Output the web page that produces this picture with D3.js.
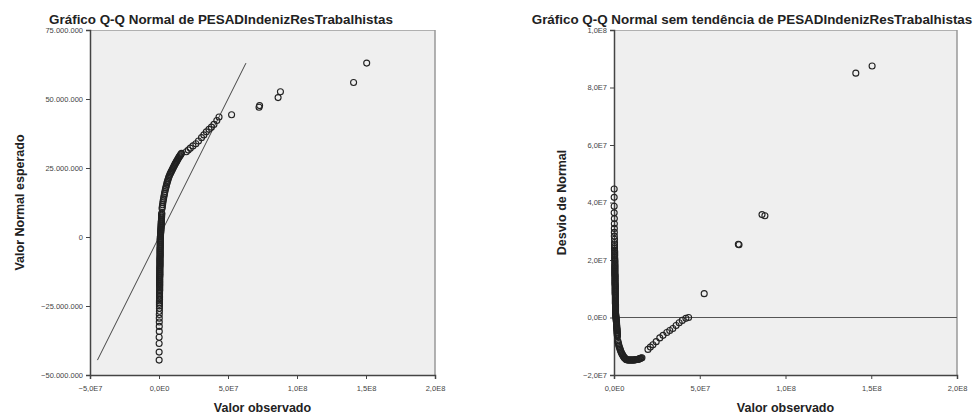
<!DOCTYPE html>
<html>
<head>
<meta charset="utf-8">
<script src="https://cdn.jsdelivr.net/npm/d3@7"></script>
<style>
  body { margin: 0; background: #fff; }
  text { font-family: "Liberation Sans", Arial, sans-serif; }
</style>
</head>
<body>
<svg id="chart" width="979" height="417"></svg>
<script>
// observed values (millions), sorted by rank
var obsMillions = [
  // sparse low tail
  0.1, 0.1, 0.1, 0.1, 0.2, 0.2, 0.2, 0.2, 0.2, 0.3, 0.3,
  0.3, 0.3, 0.3, 0.3, 0.4, 0.4, 0.4, 0.4, 0.4, 0.4, 0.5, 0.5, 0.5, 0.5,
  // dense column near zero
  0.5, 0.5, 0.5, 0.5, 0.5, 0.5, 0.5, 0.5, 0.5, 0.5,
  0.6, 0.6, 0.6, 0.6, 0.6, 0.6, 0.6, 0.6, 0.6, 0.6,
  0.7, 0.7, 0.7, 0.7, 0.7, 0.7, 0.7, 0.7, 0.7, 0.7,
  0.8, 0.8, 0.8, 0.8, 0.8, 0.8, 0.8, 0.8, 0.8, 0.8,
  0.9, 0.9, 0.9, 0.9, 0.9, 0.9, 0.9, 0.9, 0.9, 0.9,
  1.0, 1.0, 1.1, 1.1, 1.2, 1.2, 1.3, 1.3, 1.4, 1.4,
  1.5, 1.5, 1.5, 1.6, 1.6, 1.6, 1.7, 1.7, 1.8, 1.8,
  1.8, 1.9, 1.9, 1.9, 2.0, 2.0,
  // bend
  2.2, 2.4, 2.6, 2.8, 3.0, 3.3, 3.5, 3.8, 4.0, 4.3,
  4.6, 4.9, 5.2, 5.5, 5.8, 6.1, 6.4, 6.8, 7.1, 7.5,
  7.9, 8.3, 8.7, 9.1, 9.5, 9.9, 10.3, 10.7, 11.1, 11.5,
  11.9, 12.3, 12.7, 13.1, 13.5, 13.9, 14.3, 14.7, 15.1, 15.5,
  15.9, 16.3,
  // upper cluster
  19.8, 21.2, 22.7, 24.6, 26.7, 28.6, 30.8, 32.5, 34.3, 36.2,
  38.0, 39.8, 41.9, 43.5,
  // outliers
  52.6, 72.5, 72.9, 86.3, 88.0, 141.0, 150.5
];
// expected normal values (millions), same order
var expMillions = [
  -44.6, -41.7, -38.6, -36.3, -34.2, -32.4, -30.8, -29.4, -28.1, -26.9, -25.8,
  -25.0, -24.4, -23.8, -23.2, -22.6, -22.0, -21.5, -21.0, -20.5, -20.0, -19.5, -19.0, -18.5, -18.0,
  -17.6, -17.3, -16.9, -16.6, -16.2, -15.9, -15.5, -15.2, -14.8, -14.5,
  -14.1, -13.8, -13.4, -13.1, -12.7, -12.4, -12.0, -11.7, -11.3, -11.0,
  -10.6, -10.3, -9.9, -9.6, -9.2, -8.9, -8.5, -8.2, -7.8, -7.5,
  -7.1, -6.8, -6.4, -6.1, -5.7, -5.4, -5.0, -4.7, -4.3, -4.0,
  -3.6, -3.3, -2.9, -2.6, -2.2, -1.9, -1.5, -1.2, -0.8, -0.5,
  -0.1, 0.2, 0.6, 0.9, 1.3, 1.6, 2.0, 2.3, 2.7, 3.0,
  3.4, 3.7, 4.1, 4.4, 4.8, 5.1, 5.5, 5.8, 6.2, 6.5,
  6.9, 7.2, 7.6, 7.9, 8.3, 8.6,
  10.3, 11.0, 11.7, 12.4, 13.1, 13.8, 14.5, 15.2, 15.8, 16.5,
  17.2, 17.8, 18.4, 19.0, 19.6, 20.1, 20.6, 21.2, 21.7, 22.2,
  22.7, 23.1, 23.5, 23.9, 24.3, 24.7, 25.1, 25.5, 25.9, 26.3,
  26.7, 27.0, 27.4, 27.7, 28.1, 28.4, 28.8, 29.1, 29.4, 29.7,
  30.0, 30.3,
  30.9, 31.5, 32.2, 33.0, 33.8, 34.8, 36.0, 37.0, 38.1, 39.0,
  39.8, 40.8, 42.2, 43.5,
  44.3, 47.0, 47.6, 50.5, 52.6, 56.0, 63.0
];

var qqTitle = "Gráfico Q-Q Normal de PESADIndenizResTrabalhistas";
var detTitle = "Gráfico Q-Q Normal sem tendência de PESADIndenizResTrabalhistas";
var qqXTicks = [-5e7, 0, 5e7, 1e8, 1.5e8, 2e8];
var qqYTicks = [-5e7, -2.5e7, 0, 2.5e7, 5e7, 7.5e7];
var detXTicks = [0, 5e7, 1e8, 1.5e8, 2e8];
var detYTicks = [-2e7, 0, 2e7, 4e7, 6e7, 8e7, 1e8];

var svg = d3.select("#chart");

var ptLocale = d3.formatLocale({ decimal: ",", thousands: ".", grouping: [3], currency: ["", ""] });
var fmtThousands = ptLocale.format(",.0f");
var fmtSci = function (v) {
  return d3.format(".1e")(v).replace(".", ",").replace("e+", "E").replace("e-", "E-");
};

var points = obsMillions.map(function (d, i) {
  return { obs: d * 1e6, exp: expMillions[i] * 1e6 };
});

// draws the frame of one panel and returns its scales
function panel(box, xDomain, yDomain, xTicks, yTicks, xFmt, yFmt, title, titleX, yLabel, yLabelX) {
  var x = d3.scaleLinear().domain(xDomain).range([box.x0, box.x1]);
  var y = d3.scaleLinear().domain(yDomain).range([box.y1, box.y0]);

  svg.append("rect")
    .attr("x", box.x0).attr("y", box.y0)
    .attr("width", box.x1 - box.x0).attr("height", box.y1 - box.y0)
    .attr("fill", "#efefef");
  svg.append("line")
    .attr("x1", box.x0).attr("x2", box.x1).attr("y1", box.y0 + 0.5).attr("y2", box.y0 + 0.5)
    .attr("stroke", "#b0b0b0");
  svg.append("line")
    .attr("x1", box.x1).attr("x2", box.x1).attr("y1", box.y0).attr("y2", box.y1)
    .attr("stroke", "#999").attr("stroke-width", 1.5);

  var gx = svg.append("g")
    .attr("transform", "translate(0," + box.y1 + ")")
    .call(d3.axisBottom(x).tickValues(xTicks).tickFormat(xFmt).tickSizeOuter(0).tickSize(4));
  var gy = svg.append("g")
    .attr("transform", "translate(" + box.x0 + ",0)")
    .call(d3.axisLeft(y).tickValues(yTicks).tickFormat(yFmt).tickSizeOuter(0).tickSize(4));
  [gx, gy].forEach(function (g) {
    g.select(".domain").attr("stroke", "#444").attr("stroke-width", 1.5);
    g.selectAll(".tick line").attr("stroke", "#444");
    g.selectAll(".tick text").attr("font-size", "7.5px").attr("fill", "#444")
      .attr("font-family", "\"Liberation Sans\", Arial, sans-serif");
  });
  gx.selectAll(".tick text").attr("dy", "1.2em");

  svg.append("text")
    .attr("x", titleX).attr("y", 24)
    .attr("text-anchor", "middle")
    .attr("font-size", "13.4px").attr("font-weight", "bold").attr("fill", "#222")
    .text(title);
  svg.append("text")
    .attr("x", (box.x0 + box.x1) / 2).attr("y", 412)
    .attr("text-anchor", "middle")
    .attr("font-size", "12.5px").attr("font-weight", "bold").attr("fill", "#222")
    .text("Valor observado");
  svg.append("text")
    .attr("transform", "translate(" + yLabelX + "," + (box.y0 + box.y1) / 2 + ") rotate(-90)")
    .attr("text-anchor", "middle")
    .attr("font-size", "12.5px").attr("font-weight", "bold").attr("fill", "#222")
    .text(yLabel);

  return { x: x, y: y };
}

// left: normal Q-Q plot
var qq = panel({ x0: 90, x1: 435, y0: 30, y1: 375 }, [-5e7, 2e8], [-5e7, 7.5e7],
  qqXTicks, qqYTicks, fmtSci, fmtThousands, qqTitle, 221, "Valor Normal esperado", 24);

var expExtent = d3.extent(points, function (d) { return d.exp; });
svg.append("line")
  .attr("x1", qq.x(expExtent[0])).attr("y1", qq.y(expExtent[0]))
  .attr("x2", qq.x(expExtent[1])).attr("y2", qq.y(expExtent[1]))
  .attr("stroke", "#444").attr("stroke-width", 1);

svg.append("g").selectAll("circle")
  .data(points)
  .enter()
  .append("circle")
  .attr("cx", function (d) { return qq.x(d.obs); })
  .attr("cy", function (d) { return qq.y(d.exp); })
  .attr("r", 3)
  .attr("fill", "none")
  .attr("stroke", "#222")
  .attr("stroke-width", 1.1);

// right: detrended Q-Q plot
var det = panel({ x0: 614, x1: 957, y0: 30, y1: 375 }, [0, 2e8], [-2e7, 1e8],
  detXTicks, detYTicks, fmtSci, fmtSci, detTitle, 752, "Desvio de Normal", 566);

svg.append("line")
  .attr("x1", det.x(0)).attr("x2", det.x(2e8))
  .attr("y1", det.y(0)).attr("y2", det.y(0))
  .attr("stroke", "#555").attr("stroke-width", 1);

svg.append("g").selectAll("circle")
  .data(points)
  .enter()
  .append("circle")
  .attr("cx", function (d) { return det.x(d.obs); })
  .attr("cy", function (d) { return det.y(d.obs - d.exp); })
  .attr("r", 3)
  .attr("fill", "none")
  .attr("stroke", "#222")
  .attr("stroke-width", 1.1);
</script>
</body>
</html>
